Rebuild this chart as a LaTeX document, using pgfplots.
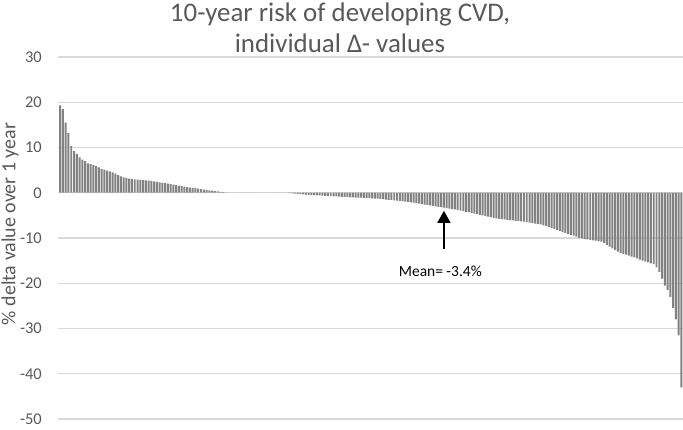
\documentclass[border=0pt]{standalone}
\usepackage{pgfplots}
\pgfplotsset{compat=1.18}
\usepackage{pgfplotstable}
\usepackage{fontspec}
\setmainfont{Carlito}
\usetikzlibrary{arrows.meta}
\definecolor{txt}{RGB}{89,89,89}
\definecolor{gridc}{RGB}{217,217,217}
\definecolor{barc}{RGB}{130,130,130}

\pgfplotstableread{
v
19.3
18.5
15.5
13.2
10.3
9.2
8.6
7.8
7.3
7.0
6.5
6.3
6.1
5.9
5.6
5.3
5.1
4.9
4.7
4.5
4.2
3.9
3.6
3.4
3.3
3.1
3.0
2.95
2.9
2.85
2.8
2.75
2.7
2.6
2.5
2.4
2.3
2.2
2.1
2.0
1.9
1.8
1.7
1.55
1.45
1.35
1.25
1.15
1.05
1.0
0.9
0.8
0.7
0.6
0.5
0.45
0.35
0.3
0.2
0.15
0.1
0.05
0
0
0
0
0
0
0
0
0
0
0
0
0
0
0
0
0
0
0
0
0
-0.1
-0.15
-0.2
-0.25
-0.3
-0.35
-0.4
-0.45
-0.5
-0.55
-0.6
-0.6
-0.65
-0.7
-0.7
-0.75
-0.8
-0.8
-0.85
-0.9
-0.9
-0.95
-1.0
-1.0
-1.05
-1.1
-1.1
-1.15
-1.2
-1.2
-1.25
-1.3
-1.3
-1.35
-1.4
-1.5
-1.55
-1.6
-1.7
-1.75
-1.8
-1.9
-1.95
-2.0
-2.1
-2.2
-2.3
-2.4
-2.5
-2.6
-2.7
-2.8
-2.9
-3.0
-3.1
-3.2
-3.3
-3.4
-3.5
-3.6
-3.7
-3.8
-3.95
-4.05
-4.2
-4.3
-4.45
-4.6
-4.75
-4.9
-5.0
-5.15
-5.3
-5.4
-5.55
-5.65
-5.8
-5.85
-5.9
-6.0
-6.05
-6.1
-6.2
-6.25
-6.3
-6.4
-6.5
-6.6
-6.7
-6.8
-6.9
-7.0
-7.2
-7.4
-7.6
-7.8
-8.0
-8.2
-8.5
-8.7
-8.9
-9.1
-9.3
-9.5
-9.7
-10.0
-10.1
-10.2
-10.3
-10.4
-10.5
-10.6
-10.7
-10.8
-11.1
-11.5
-11.9
-12.3
-12.6
-13.0
-13.3
-13.5
-13.7
-13.9
-14.1
-14.3
-14.5
-14.8
-15.0
-15.2
-15.4
-15.6
-15.8
-16.5
-17.5
-19.0
-20.5
-21.5
-23.0
-25.5
-28.0
-31.5
-43.0
}\deltatable

\begin{document}
\begin{tikzpicture}
\path[use as bounding box] (-58bp,-11bp) rectangle (625bp,419bp);
\begin{axis}[
  at={(0,0)}, anchor=south west,
  scale only axis,
  width=625bp, height=362bp,
  xmin=-0.8, xmax=225.6,
  ymin=-50, ymax=30,
  ytick={-50,-40,...,30},
  xtick=\empty,
  major tick length=0pt,
  axis line style={draw=none},
  ymajorgrids,
  major grid style={draw=gridc, line width=1.2bp},
  /pgf/number format/assume math mode=true,
  yticklabel style={font=\fontsize{16.5}{19}\selectfont, text=txt, inner sep=0pt, xshift=-16bp},
  clip=false,
]
\addplot[ybar, bar width=0.72, fill=barc, draw=none] table[x expr=\coordindex, y=v] {\deltatable};
\draw[-{Triangle[width=13bp,length=12bp]}, line width=1.6bp, black]
  (axis cs:139,-12.4) -- (axis cs:139,-4.0);
\node[anchor=base, font=\fontsize{15.5}{18}\selectfont, text=black, inner sep=0pt]
  at (axis cs:137.7,-18.4) {Mean= -3.4\%};
\end{axis}
\node[anchor=base, font=\fontsize{27}{32}\selectfont, text=txt, inner sep=0pt] at (282bp,397bp) {10-year risk of developing CVD,};
\node[anchor=base, font=\fontsize{27}{32}\selectfont, text=txt, inner sep=0pt] at (282bp,366bp) {individual Δ- values};
\node[rotate=90, font=\fontsize{20}{24}\selectfont, text=txt, inner sep=0pt] at (-48bp,195bp) {\% delta value over 1 year};
\end{tikzpicture}
\end{document}
